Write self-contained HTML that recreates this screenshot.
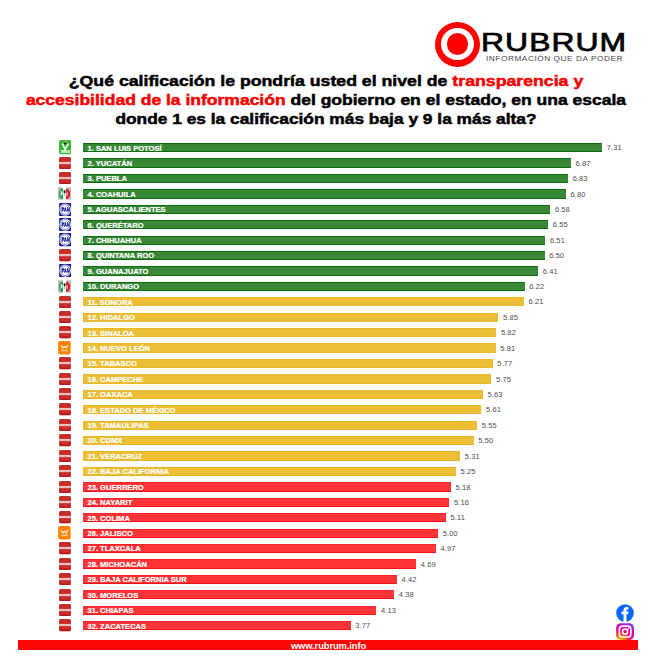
<!DOCTYPE html>
<html><head><meta charset="utf-8">
<style>
*{margin:0;padding:0;box-sizing:border-box}
html,body{width:657px;height:657px;background:#fff;overflow:hidden}
body{position:relative;font-family:"Liberation Sans",sans-serif}
.abs{position:absolute}
.bar{position:absolute;left:83px;height:9.3px}
.bar.g{background:#378737;box-shadow:inset 0 1px 0 #0C6F0C,inset 0 -1px 0 #0C6F0C}
.bar.y{background:#EBBE35;box-shadow:inset 0 1px 0 #E8B824,inset 0 -1px 0 #E8B824}
.bar.r{background:#FE3437;box-shadow:inset 0 1px 0 #F8222A,inset 0 -1px 0 #F2121C}
.bar span{position:absolute;left:4.5px;top:0.5px;line-height:9px;font-size:7.55px;font-weight:bold;color:#fff;white-space:nowrap;letter-spacing:0px;-webkit-text-stroke:0.2px #fff}
.val{position:absolute;height:9px;line-height:9px;font-size:7.5px;color:#4e4e4e;white-space:nowrap;margin-top:0.3px;letter-spacing:0.1px}
.ic{position:absolute}
.title{position:absolute;left:0;width:652px;text-align:center;font-weight:bold;color:#000;white-space:nowrap;font-size:15px;transform-origin:326px 0;-webkit-text-stroke:0.5px currentColor}
.title .red{color:#F80000}
</style></head><body>
<!-- logo -->
<div class="abs" style="left:434.7px;top:21.5px;width:45px;height:45px;border-radius:50%;background:#FF0000"></div>
<div class="abs" style="left:440.8px;top:27.6px;width:32.8px;height:32.8px;border-radius:50%;background:#fff"></div>
<div class="abs" style="left:446.6px;top:33.4px;width:21.2px;height:21.2px;border-radius:50%;background:#FF0000"></div>
<div class="abs" id="rub" style="left:480.8px;top:26.9px;font-size:26.6px;font-weight:normal;color:#000;line-height:30px;white-space:nowrap;transform:scaleX(1.2);transform-origin:0 0;letter-spacing:0.85px;-webkit-text-stroke:0.75px #000">RUBRUM</div>
<div class="abs" id="tag" style="left:485.5px;top:53.5px;font-size:6.9px;color:#484848;line-height:9px;white-space:nowrap;letter-spacing:0.45px;transform:scaleX(1.2);transform-origin:0 0">INFORMACIÓN QUE DA PODER</div>
<!-- title -->
<div class="title" id="t1" style="top:72.3px;line-height:18px;transform:scaleX(1.18)">¿Qué calificación le pondría usted el nivel de <span class="red">transparencia y</span></div>
<div class="title" id="t2" style="top:90.8px;line-height:18px;transform:scaleX(1.167)"><span class="red">accesibilidad de la información</span> del gobierno en el estado, en una escala</div>
<div class="title" id="t3" style="top:109.6px;line-height:18px;transform:scaleX(1.156)">donde 1 es la calificación más baja y 9 la más alta?</div>
<div class="bar g" style="top:143.00px;width:519.01px"><span>1. SAN LUIS POTOSÍ</span></div>
<div class="val" style="top:143.00px;left:606.71px">7.31</div>
<svg class="ic" style="left:58.5px;top:140.40px" width="12.7" height="14.2" viewBox="0 0 12 13.4"><rect x="0" y="0" width="12" height="13.4" rx="2" fill="#3CB43C"/><path d="M3.2 3.4 L5.8 8.8 L8.8 3.4" stroke="#F4FFF0" stroke-width="1.5" fill="none"/><circle cx="5.9" cy="3.2" r="1.1" fill="#151515"/><rect x="5.2" y="1" width="2" height="1.3" fill="#C8B030"/><rect x="1" y="10" width="10" height="2.6" fill="#3CB43C"/><text x="6" y="12.5" font-size="3.6" font-weight="bold" fill="#F0FFF0" text-anchor="middle" textLength="9.6" font-family="Liberation Sans">VERDE</text></svg>
<div class="bar g" style="top:158.42px;width:487.77px"><span>2. YUCATÁN</span></div>
<div class="val" style="top:158.42px;left:575.47px">6.87</div>
<svg class="ic" style="left:58.9px;top:156.77px" width="12" height="12.3" viewBox="0 0 12 12.3"><rect x="0.3" y="0.3" width="11.4" height="11.7" rx="1.6" fill="#C42020" stroke="#A30808" stroke-width="0.6"/><rect x="1.3" y="1.3" width="9.4" height="3" fill="#C93A2A" opacity=".6"/><rect x="0.2" y="4.9" width="11.6" height="2.3" fill="#F6DADA"/><rect x="1.6" y="5.5" width="0.5" height="1.3" fill="#D67070"/><rect x="2.9" y="5.5" width="0.5" height="1.3" fill="#D67070"/><rect x="3.8" y="5.5" width="0.5" height="1.3" fill="#D67070"/><rect x="5.1" y="5.5" width="0.5" height="1.3" fill="#D67070"/><rect x="6.3" y="5.5" width="0.5" height="1.3" fill="#D67070"/><rect x="7.5" y="5.5" width="0.5" height="1.3" fill="#D67070"/><rect x="8.8" y="5.5" width="0.5" height="1.3" fill="#D67070"/><rect x="10.0" y="5.5" width="0.5" height="1.3" fill="#D67070"/><rect x="2" y="8.6" width="8" height="1.2" fill="#D55" opacity=".5"/></svg>
<div class="bar g" style="top:173.84px;width:484.93px"><span>3. PUEBLA</span></div>
<div class="val" style="top:173.84px;left:572.63px">6.83</div>
<svg class="ic" style="left:58.9px;top:172.19px" width="12" height="12.3" viewBox="0 0 12 12.3"><rect x="0.3" y="0.3" width="11.4" height="11.7" rx="1.6" fill="#C42020" stroke="#A30808" stroke-width="0.6"/><rect x="1.3" y="1.3" width="9.4" height="3" fill="#C93A2A" opacity=".6"/><rect x="0.2" y="4.9" width="11.6" height="2.3" fill="#F6DADA"/><rect x="1.6" y="5.5" width="0.5" height="1.3" fill="#D67070"/><rect x="2.9" y="5.5" width="0.5" height="1.3" fill="#D67070"/><rect x="3.8" y="5.5" width="0.5" height="1.3" fill="#D67070"/><rect x="5.1" y="5.5" width="0.5" height="1.3" fill="#D67070"/><rect x="6.3" y="5.5" width="0.5" height="1.3" fill="#D67070"/><rect x="7.5" y="5.5" width="0.5" height="1.3" fill="#D67070"/><rect x="8.8" y="5.5" width="0.5" height="1.3" fill="#D67070"/><rect x="10.0" y="5.5" width="0.5" height="1.3" fill="#D67070"/><rect x="2" y="8.6" width="8" height="1.2" fill="#D55" opacity=".5"/></svg>
<div class="bar g" style="top:189.26px;width:482.80px"><span>4. COAHUILA</span></div>
<div class="val" style="top:189.26px;left:570.50px">6.80</div>
<svg class="ic" style="left:58px;top:187.26px" width="13.2" height="13" viewBox="0 0 13.2 13"><rect x="0" y="0.3" width="4.9" height="12.4" rx="0.6" fill="#B9B9B9"/><rect x="8.3" y="0.3" width="4.9" height="12.4" rx="0.6" fill="#B9B9B9"/><path d="M5 1.6 A4 5.2 0 0 0 5 12 Z" fill="#149A44"/><path d="M4.6 4.2 L2.6 4.2 L2.5 9.5 L4.6 7 Z" fill="#E6F4E6"/><rect x="4.9" y="0.3" width="3.4" height="12.4" fill="#fff"/><rect x="5.6" y="3.2" width="2" height="3.2" rx="0.8" fill="#1A1A1A"/><rect x="5.9" y="7" width="1.4" height="2" fill="#888" opacity=".6"/><path d="M8.1 1.6 A4 5.2 0 0 1 8.1 12 Z" fill="#E01A1A"/><path d="M8.7 4.2 A1.4 2.8 0 0 1 8.7 9.6 Z" fill="#fff"/></svg>
<div class="bar g" style="top:204.68px;width:467.18px"><span>5. AGUASCALIENTES</span></div>
<div class="val" style="top:204.68px;left:554.88px">6.58</div>
<svg class="ic" style="left:58.7px;top:202.58px" width="12.4" height="13.2" viewBox="0 0 12 13"><rect x="0" y="0" width="12" height="13" rx="1" fill="#1A1A8A"/><ellipse cx="6" cy="6.5" rx="5.7" ry="6.1" fill="#E6E8F4"/><ellipse cx="6" cy="6.5" rx="4.4" ry="4.8" fill="#fff" stroke="#5060B8" stroke-width="0.7"/><path d="M2.6 4.3h1.5a1.15 1.2 0 0 1 0 2.4H3.5V8.7H2.6Z M4.9 8.7L5.8 4.3h0.8L7.5 8.7H6.6L6.2 6.4L5.8 8.7Z M7.8 4.3h0.8l1.0 2.6V4.3h0.7v4.4h-0.8l-1.0-2.6v2.6h-0.7Z" fill="#1A2A9A"/><rect x="2.4" y="7.3" width="7.4" height="0.5" fill="#1A2A9A"/></svg>
<div class="bar g" style="top:220.10px;width:465.05px"><span>6. QUERÉTARO</span></div>
<div class="val" style="top:220.10px;left:552.75px">6.55</div>
<svg class="ic" style="left:58.7px;top:218.00px" width="12.4" height="13.2" viewBox="0 0 12 13"><rect x="0" y="0" width="12" height="13" rx="1" fill="#1A1A8A"/><ellipse cx="6" cy="6.5" rx="5.7" ry="6.1" fill="#E6E8F4"/><ellipse cx="6" cy="6.5" rx="4.4" ry="4.8" fill="#fff" stroke="#5060B8" stroke-width="0.7"/><path d="M2.6 4.3h1.5a1.15 1.2 0 0 1 0 2.4H3.5V8.7H2.6Z M4.9 8.7L5.8 4.3h0.8L7.5 8.7H6.6L6.2 6.4L5.8 8.7Z M7.8 4.3h0.8l1.0 2.6V4.3h0.7v4.4h-0.8l-1.0-2.6v2.6h-0.7Z" fill="#1A2A9A"/><rect x="2.4" y="7.3" width="7.4" height="0.5" fill="#1A2A9A"/></svg>
<div class="bar g" style="top:235.52px;width:462.21px"><span>7. CHIHUAHUA</span></div>
<div class="val" style="top:235.52px;left:549.91px">6.51</div>
<svg class="ic" style="left:58.7px;top:233.42px" width="12.4" height="13.2" viewBox="0 0 12 13"><rect x="0" y="0" width="12" height="13" rx="1" fill="#1A1A8A"/><ellipse cx="6" cy="6.5" rx="5.7" ry="6.1" fill="#E6E8F4"/><ellipse cx="6" cy="6.5" rx="4.4" ry="4.8" fill="#fff" stroke="#5060B8" stroke-width="0.7"/><path d="M2.6 4.3h1.5a1.15 1.2 0 0 1 0 2.4H3.5V8.7H2.6Z M4.9 8.7L5.8 4.3h0.8L7.5 8.7H6.6L6.2 6.4L5.8 8.7Z M7.8 4.3h0.8l1.0 2.6V4.3h0.7v4.4h-0.8l-1.0-2.6v2.6h-0.7Z" fill="#1A2A9A"/><rect x="2.4" y="7.3" width="7.4" height="0.5" fill="#1A2A9A"/></svg>
<div class="bar g" style="top:250.94px;width:461.50px"><span>8. QUINTANA ROO</span></div>
<div class="val" style="top:250.94px;left:549.20px">6.50</div>
<svg class="ic" style="left:58.9px;top:249.29px" width="12" height="12.3" viewBox="0 0 12 12.3"><rect x="0.3" y="0.3" width="11.4" height="11.7" rx="1.6" fill="#C42020" stroke="#A30808" stroke-width="0.6"/><rect x="1.3" y="1.3" width="9.4" height="3" fill="#C93A2A" opacity=".6"/><rect x="0.2" y="4.9" width="11.6" height="2.3" fill="#F6DADA"/><rect x="1.6" y="5.5" width="0.5" height="1.3" fill="#D67070"/><rect x="2.9" y="5.5" width="0.5" height="1.3" fill="#D67070"/><rect x="3.8" y="5.5" width="0.5" height="1.3" fill="#D67070"/><rect x="5.1" y="5.5" width="0.5" height="1.3" fill="#D67070"/><rect x="6.3" y="5.5" width="0.5" height="1.3" fill="#D67070"/><rect x="7.5" y="5.5" width="0.5" height="1.3" fill="#D67070"/><rect x="8.8" y="5.5" width="0.5" height="1.3" fill="#D67070"/><rect x="10.0" y="5.5" width="0.5" height="1.3" fill="#D67070"/><rect x="2" y="8.6" width="8" height="1.2" fill="#D55" opacity=".5"/></svg>
<div class="bar g" style="top:266.36px;width:455.11px"><span>9. GUANAJUATO</span></div>
<div class="val" style="top:266.36px;left:542.81px">6.41</div>
<svg class="ic" style="left:58.7px;top:264.26px" width="12.4" height="13.2" viewBox="0 0 12 13"><rect x="0" y="0" width="12" height="13" rx="1" fill="#1A1A8A"/><ellipse cx="6" cy="6.5" rx="5.7" ry="6.1" fill="#E6E8F4"/><ellipse cx="6" cy="6.5" rx="4.4" ry="4.8" fill="#fff" stroke="#5060B8" stroke-width="0.7"/><path d="M2.6 4.3h1.5a1.15 1.2 0 0 1 0 2.4H3.5V8.7H2.6Z M4.9 8.7L5.8 4.3h0.8L7.5 8.7H6.6L6.2 6.4L5.8 8.7Z M7.8 4.3h0.8l1.0 2.6V4.3h0.7v4.4h-0.8l-1.0-2.6v2.6h-0.7Z" fill="#1A2A9A"/><rect x="2.4" y="7.3" width="7.4" height="0.5" fill="#1A2A9A"/></svg>
<div class="bar g" style="top:281.78px;width:441.62px"><span>10. DURANGO</span></div>
<div class="val" style="top:281.78px;left:529.32px">6.22</div>
<svg class="ic" style="left:58px;top:279.78px" width="13.2" height="13" viewBox="0 0 13.2 13"><rect x="0" y="0.3" width="4.9" height="12.4" rx="0.6" fill="#B9B9B9"/><rect x="8.3" y="0.3" width="4.9" height="12.4" rx="0.6" fill="#B9B9B9"/><path d="M5 1.6 A4 5.2 0 0 0 5 12 Z" fill="#149A44"/><path d="M4.6 4.2 L2.6 4.2 L2.5 9.5 L4.6 7 Z" fill="#E6F4E6"/><rect x="4.9" y="0.3" width="3.4" height="12.4" fill="#fff"/><rect x="5.6" y="3.2" width="2" height="3.2" rx="0.8" fill="#1A1A1A"/><rect x="5.9" y="7" width="1.4" height="2" fill="#888" opacity=".6"/><path d="M8.1 1.6 A4 5.2 0 0 1 8.1 12 Z" fill="#E01A1A"/><path d="M8.7 4.2 A1.4 2.8 0 0 1 8.7 9.6 Z" fill="#fff"/></svg>
<div class="bar y" style="top:297.20px;width:440.91px"><span>11. SONORA</span></div>
<div class="val" style="top:297.20px;left:528.61px">6.21</div>
<svg class="ic" style="left:58.9px;top:295.55px" width="12" height="12.3" viewBox="0 0 12 12.3"><rect x="0.3" y="0.3" width="11.4" height="11.7" rx="1.6" fill="#C42020" stroke="#A30808" stroke-width="0.6"/><rect x="1.3" y="1.3" width="9.4" height="3" fill="#C93A2A" opacity=".6"/><rect x="0.2" y="4.9" width="11.6" height="2.3" fill="#F6DADA"/><rect x="1.6" y="5.5" width="0.5" height="1.3" fill="#D67070"/><rect x="2.9" y="5.5" width="0.5" height="1.3" fill="#D67070"/><rect x="3.8" y="5.5" width="0.5" height="1.3" fill="#D67070"/><rect x="5.1" y="5.5" width="0.5" height="1.3" fill="#D67070"/><rect x="6.3" y="5.5" width="0.5" height="1.3" fill="#D67070"/><rect x="7.5" y="5.5" width="0.5" height="1.3" fill="#D67070"/><rect x="8.8" y="5.5" width="0.5" height="1.3" fill="#D67070"/><rect x="10.0" y="5.5" width="0.5" height="1.3" fill="#D67070"/><rect x="2" y="8.6" width="8" height="1.2" fill="#D55" opacity=".5"/></svg>
<div class="bar y" style="top:312.62px;width:415.35px"><span>12. HIDALGO</span></div>
<div class="val" style="top:312.62px;left:503.05px">5.85</div>
<svg class="ic" style="left:58.9px;top:310.97px" width="12" height="12.3" viewBox="0 0 12 12.3"><rect x="0.3" y="0.3" width="11.4" height="11.7" rx="1.6" fill="#C42020" stroke="#A30808" stroke-width="0.6"/><rect x="1.3" y="1.3" width="9.4" height="3" fill="#C93A2A" opacity=".6"/><rect x="0.2" y="4.9" width="11.6" height="2.3" fill="#F6DADA"/><rect x="1.6" y="5.5" width="0.5" height="1.3" fill="#D67070"/><rect x="2.9" y="5.5" width="0.5" height="1.3" fill="#D67070"/><rect x="3.8" y="5.5" width="0.5" height="1.3" fill="#D67070"/><rect x="5.1" y="5.5" width="0.5" height="1.3" fill="#D67070"/><rect x="6.3" y="5.5" width="0.5" height="1.3" fill="#D67070"/><rect x="7.5" y="5.5" width="0.5" height="1.3" fill="#D67070"/><rect x="8.8" y="5.5" width="0.5" height="1.3" fill="#D67070"/><rect x="10.0" y="5.5" width="0.5" height="1.3" fill="#D67070"/><rect x="2" y="8.6" width="8" height="1.2" fill="#D55" opacity=".5"/></svg>
<div class="bar y" style="top:328.04px;width:413.22px"><span>13. SINALOA</span></div>
<div class="val" style="top:328.04px;left:500.92px">5.82</div>
<svg class="ic" style="left:58.9px;top:326.39px" width="12" height="12.3" viewBox="0 0 12 12.3"><rect x="0.3" y="0.3" width="11.4" height="11.7" rx="1.6" fill="#C42020" stroke="#A30808" stroke-width="0.6"/><rect x="1.3" y="1.3" width="9.4" height="3" fill="#C93A2A" opacity=".6"/><rect x="0.2" y="4.9" width="11.6" height="2.3" fill="#F6DADA"/><rect x="1.6" y="5.5" width="0.5" height="1.3" fill="#D67070"/><rect x="2.9" y="5.5" width="0.5" height="1.3" fill="#D67070"/><rect x="3.8" y="5.5" width="0.5" height="1.3" fill="#D67070"/><rect x="5.1" y="5.5" width="0.5" height="1.3" fill="#D67070"/><rect x="6.3" y="5.5" width="0.5" height="1.3" fill="#D67070"/><rect x="7.5" y="5.5" width="0.5" height="1.3" fill="#D67070"/><rect x="8.8" y="5.5" width="0.5" height="1.3" fill="#D67070"/><rect x="10.0" y="5.5" width="0.5" height="1.3" fill="#D67070"/><rect x="2" y="8.6" width="8" height="1.2" fill="#D55" opacity=".5"/></svg>
<div class="bar y" style="top:343.46px;width:412.51px"><span>14. NUEVO LEÓN</span></div>
<div class="val" style="top:343.46px;left:500.21px">5.81</div>
<svg class="ic" style="left:58px;top:341.21px" width="12.8" height="13.5" viewBox="0 0 12 13"><rect x="0" y="0" width="12" height="13" rx="2" fill="#FF8200"/><path d="M2.6 4.2 L4.6 6.6 L6 5.3 L7.4 6.6 L9.4 4.2" stroke="#FFF3DC" stroke-width="1.3" fill="none" stroke-linejoin="round"/><rect x="3" y="8.4" width="6" height="1.4" fill="#FFD8A0"/></svg>
<div class="bar y" style="top:358.88px;width:409.67px"><span>15. TABASCO</span></div>
<div class="val" style="top:358.88px;left:497.37px">5.77</div>
<svg class="ic" style="left:58.9px;top:357.23px" width="12" height="12.3" viewBox="0 0 12 12.3"><rect x="0.3" y="0.3" width="11.4" height="11.7" rx="1.6" fill="#C42020" stroke="#A30808" stroke-width="0.6"/><rect x="1.3" y="1.3" width="9.4" height="3" fill="#C93A2A" opacity=".6"/><rect x="0.2" y="4.9" width="11.6" height="2.3" fill="#F6DADA"/><rect x="1.6" y="5.5" width="0.5" height="1.3" fill="#D67070"/><rect x="2.9" y="5.5" width="0.5" height="1.3" fill="#D67070"/><rect x="3.8" y="5.5" width="0.5" height="1.3" fill="#D67070"/><rect x="5.1" y="5.5" width="0.5" height="1.3" fill="#D67070"/><rect x="6.3" y="5.5" width="0.5" height="1.3" fill="#D67070"/><rect x="7.5" y="5.5" width="0.5" height="1.3" fill="#D67070"/><rect x="8.8" y="5.5" width="0.5" height="1.3" fill="#D67070"/><rect x="10.0" y="5.5" width="0.5" height="1.3" fill="#D67070"/><rect x="2" y="8.6" width="8" height="1.2" fill="#D55" opacity=".5"/></svg>
<div class="bar y" style="top:374.30px;width:408.25px"><span>16. CAMPECHE</span></div>
<div class="val" style="top:374.30px;left:495.95px">5.75</div>
<svg class="ic" style="left:58.9px;top:372.65px" width="12" height="12.3" viewBox="0 0 12 12.3"><rect x="0.3" y="0.3" width="11.4" height="11.7" rx="1.6" fill="#C42020" stroke="#A30808" stroke-width="0.6"/><rect x="1.3" y="1.3" width="9.4" height="3" fill="#C93A2A" opacity=".6"/><rect x="0.2" y="4.9" width="11.6" height="2.3" fill="#F6DADA"/><rect x="1.6" y="5.5" width="0.5" height="1.3" fill="#D67070"/><rect x="2.9" y="5.5" width="0.5" height="1.3" fill="#D67070"/><rect x="3.8" y="5.5" width="0.5" height="1.3" fill="#D67070"/><rect x="5.1" y="5.5" width="0.5" height="1.3" fill="#D67070"/><rect x="6.3" y="5.5" width="0.5" height="1.3" fill="#D67070"/><rect x="7.5" y="5.5" width="0.5" height="1.3" fill="#D67070"/><rect x="8.8" y="5.5" width="0.5" height="1.3" fill="#D67070"/><rect x="10.0" y="5.5" width="0.5" height="1.3" fill="#D67070"/><rect x="2" y="8.6" width="8" height="1.2" fill="#D55" opacity=".5"/></svg>
<div class="bar y" style="top:389.72px;width:399.73px"><span>17. OAXACA</span></div>
<div class="val" style="top:389.72px;left:487.43px">5.63</div>
<svg class="ic" style="left:58.9px;top:388.07px" width="12" height="12.3" viewBox="0 0 12 12.3"><rect x="0.3" y="0.3" width="11.4" height="11.7" rx="1.6" fill="#C42020" stroke="#A30808" stroke-width="0.6"/><rect x="1.3" y="1.3" width="9.4" height="3" fill="#C93A2A" opacity=".6"/><rect x="0.2" y="4.9" width="11.6" height="2.3" fill="#F6DADA"/><rect x="1.6" y="5.5" width="0.5" height="1.3" fill="#D67070"/><rect x="2.9" y="5.5" width="0.5" height="1.3" fill="#D67070"/><rect x="3.8" y="5.5" width="0.5" height="1.3" fill="#D67070"/><rect x="5.1" y="5.5" width="0.5" height="1.3" fill="#D67070"/><rect x="6.3" y="5.5" width="0.5" height="1.3" fill="#D67070"/><rect x="7.5" y="5.5" width="0.5" height="1.3" fill="#D67070"/><rect x="8.8" y="5.5" width="0.5" height="1.3" fill="#D67070"/><rect x="10.0" y="5.5" width="0.5" height="1.3" fill="#D67070"/><rect x="2" y="8.6" width="8" height="1.2" fill="#D55" opacity=".5"/></svg>
<div class="bar y" style="top:405.14px;width:398.31px"><span>18. ESTADO DE MÉXICO</span></div>
<div class="val" style="top:405.14px;left:486.01px">5.61</div>
<svg class="ic" style="left:58.9px;top:403.49px" width="12" height="12.3" viewBox="0 0 12 12.3"><rect x="0.3" y="0.3" width="11.4" height="11.7" rx="1.6" fill="#C42020" stroke="#A30808" stroke-width="0.6"/><rect x="1.3" y="1.3" width="9.4" height="3" fill="#C93A2A" opacity=".6"/><rect x="0.2" y="4.9" width="11.6" height="2.3" fill="#F6DADA"/><rect x="1.6" y="5.5" width="0.5" height="1.3" fill="#D67070"/><rect x="2.9" y="5.5" width="0.5" height="1.3" fill="#D67070"/><rect x="3.8" y="5.5" width="0.5" height="1.3" fill="#D67070"/><rect x="5.1" y="5.5" width="0.5" height="1.3" fill="#D67070"/><rect x="6.3" y="5.5" width="0.5" height="1.3" fill="#D67070"/><rect x="7.5" y="5.5" width="0.5" height="1.3" fill="#D67070"/><rect x="8.8" y="5.5" width="0.5" height="1.3" fill="#D67070"/><rect x="10.0" y="5.5" width="0.5" height="1.3" fill="#D67070"/><rect x="2" y="8.6" width="8" height="1.2" fill="#D55" opacity=".5"/></svg>
<div class="bar y" style="top:420.56px;width:394.05px"><span>19. TAMAULIPAS</span></div>
<div class="val" style="top:420.56px;left:481.75px">5.55</div>
<svg class="ic" style="left:58.9px;top:418.91px" width="12" height="12.3" viewBox="0 0 12 12.3"><rect x="0.3" y="0.3" width="11.4" height="11.7" rx="1.6" fill="#C42020" stroke="#A30808" stroke-width="0.6"/><rect x="1.3" y="1.3" width="9.4" height="3" fill="#C93A2A" opacity=".6"/><rect x="0.2" y="4.9" width="11.6" height="2.3" fill="#F6DADA"/><rect x="1.6" y="5.5" width="0.5" height="1.3" fill="#D67070"/><rect x="2.9" y="5.5" width="0.5" height="1.3" fill="#D67070"/><rect x="3.8" y="5.5" width="0.5" height="1.3" fill="#D67070"/><rect x="5.1" y="5.5" width="0.5" height="1.3" fill="#D67070"/><rect x="6.3" y="5.5" width="0.5" height="1.3" fill="#D67070"/><rect x="7.5" y="5.5" width="0.5" height="1.3" fill="#D67070"/><rect x="8.8" y="5.5" width="0.5" height="1.3" fill="#D67070"/><rect x="10.0" y="5.5" width="0.5" height="1.3" fill="#D67070"/><rect x="2" y="8.6" width="8" height="1.2" fill="#D55" opacity=".5"/></svg>
<div class="bar y" style="top:435.98px;width:390.50px"><span>20. CDMX</span></div>
<div class="val" style="top:435.98px;left:478.20px">5.50</div>
<svg class="ic" style="left:58.9px;top:434.33px" width="12" height="12.3" viewBox="0 0 12 12.3"><rect x="0.3" y="0.3" width="11.4" height="11.7" rx="1.6" fill="#C42020" stroke="#A30808" stroke-width="0.6"/><rect x="1.3" y="1.3" width="9.4" height="3" fill="#C93A2A" opacity=".6"/><rect x="0.2" y="4.9" width="11.6" height="2.3" fill="#F6DADA"/><rect x="1.6" y="5.5" width="0.5" height="1.3" fill="#D67070"/><rect x="2.9" y="5.5" width="0.5" height="1.3" fill="#D67070"/><rect x="3.8" y="5.5" width="0.5" height="1.3" fill="#D67070"/><rect x="5.1" y="5.5" width="0.5" height="1.3" fill="#D67070"/><rect x="6.3" y="5.5" width="0.5" height="1.3" fill="#D67070"/><rect x="7.5" y="5.5" width="0.5" height="1.3" fill="#D67070"/><rect x="8.8" y="5.5" width="0.5" height="1.3" fill="#D67070"/><rect x="10.0" y="5.5" width="0.5" height="1.3" fill="#D67070"/><rect x="2" y="8.6" width="8" height="1.2" fill="#D55" opacity=".5"/></svg>
<div class="bar y" style="top:451.40px;width:377.01px"><span>21. VERACRUZ</span></div>
<div class="val" style="top:451.40px;left:464.71px">5.31</div>
<svg class="ic" style="left:58.9px;top:449.75px" width="12" height="12.3" viewBox="0 0 12 12.3"><rect x="0.3" y="0.3" width="11.4" height="11.7" rx="1.6" fill="#C42020" stroke="#A30808" stroke-width="0.6"/><rect x="1.3" y="1.3" width="9.4" height="3" fill="#C93A2A" opacity=".6"/><rect x="0.2" y="4.9" width="11.6" height="2.3" fill="#F6DADA"/><rect x="1.6" y="5.5" width="0.5" height="1.3" fill="#D67070"/><rect x="2.9" y="5.5" width="0.5" height="1.3" fill="#D67070"/><rect x="3.8" y="5.5" width="0.5" height="1.3" fill="#D67070"/><rect x="5.1" y="5.5" width="0.5" height="1.3" fill="#D67070"/><rect x="6.3" y="5.5" width="0.5" height="1.3" fill="#D67070"/><rect x="7.5" y="5.5" width="0.5" height="1.3" fill="#D67070"/><rect x="8.8" y="5.5" width="0.5" height="1.3" fill="#D67070"/><rect x="10.0" y="5.5" width="0.5" height="1.3" fill="#D67070"/><rect x="2" y="8.6" width="8" height="1.2" fill="#D55" opacity=".5"/></svg>
<div class="bar y" style="top:466.82px;width:372.75px"><span>22. BAJA CALIFORNIA</span></div>
<div class="val" style="top:466.82px;left:460.45px">5.25</div>
<svg class="ic" style="left:58.9px;top:465.17px" width="12" height="12.3" viewBox="0 0 12 12.3"><rect x="0.3" y="0.3" width="11.4" height="11.7" rx="1.6" fill="#C42020" stroke="#A30808" stroke-width="0.6"/><rect x="1.3" y="1.3" width="9.4" height="3" fill="#C93A2A" opacity=".6"/><rect x="0.2" y="4.9" width="11.6" height="2.3" fill="#F6DADA"/><rect x="1.6" y="5.5" width="0.5" height="1.3" fill="#D67070"/><rect x="2.9" y="5.5" width="0.5" height="1.3" fill="#D67070"/><rect x="3.8" y="5.5" width="0.5" height="1.3" fill="#D67070"/><rect x="5.1" y="5.5" width="0.5" height="1.3" fill="#D67070"/><rect x="6.3" y="5.5" width="0.5" height="1.3" fill="#D67070"/><rect x="7.5" y="5.5" width="0.5" height="1.3" fill="#D67070"/><rect x="8.8" y="5.5" width="0.5" height="1.3" fill="#D67070"/><rect x="10.0" y="5.5" width="0.5" height="1.3" fill="#D67070"/><rect x="2" y="8.6" width="8" height="1.2" fill="#D55" opacity=".5"/></svg>
<div class="bar r" style="top:482.24px;width:367.78px"><span>23. GUERRERO</span></div>
<div class="val" style="top:482.24px;left:455.48px">5.18</div>
<svg class="ic" style="left:58.9px;top:480.59px" width="12" height="12.3" viewBox="0 0 12 12.3"><rect x="0.3" y="0.3" width="11.4" height="11.7" rx="1.6" fill="#C42020" stroke="#A30808" stroke-width="0.6"/><rect x="1.3" y="1.3" width="9.4" height="3" fill="#C93A2A" opacity=".6"/><rect x="0.2" y="4.9" width="11.6" height="2.3" fill="#F6DADA"/><rect x="1.6" y="5.5" width="0.5" height="1.3" fill="#D67070"/><rect x="2.9" y="5.5" width="0.5" height="1.3" fill="#D67070"/><rect x="3.8" y="5.5" width="0.5" height="1.3" fill="#D67070"/><rect x="5.1" y="5.5" width="0.5" height="1.3" fill="#D67070"/><rect x="6.3" y="5.5" width="0.5" height="1.3" fill="#D67070"/><rect x="7.5" y="5.5" width="0.5" height="1.3" fill="#D67070"/><rect x="8.8" y="5.5" width="0.5" height="1.3" fill="#D67070"/><rect x="10.0" y="5.5" width="0.5" height="1.3" fill="#D67070"/><rect x="2" y="8.6" width="8" height="1.2" fill="#D55" opacity=".5"/></svg>
<div class="bar r" style="top:497.66px;width:366.36px"><span>24. NAYARIT</span></div>
<div class="val" style="top:497.66px;left:454.06px">5.16</div>
<svg class="ic" style="left:58.9px;top:496.01px" width="12" height="12.3" viewBox="0 0 12 12.3"><rect x="0.3" y="0.3" width="11.4" height="11.7" rx="1.6" fill="#C42020" stroke="#A30808" stroke-width="0.6"/><rect x="1.3" y="1.3" width="9.4" height="3" fill="#C93A2A" opacity=".6"/><rect x="0.2" y="4.9" width="11.6" height="2.3" fill="#F6DADA"/><rect x="1.6" y="5.5" width="0.5" height="1.3" fill="#D67070"/><rect x="2.9" y="5.5" width="0.5" height="1.3" fill="#D67070"/><rect x="3.8" y="5.5" width="0.5" height="1.3" fill="#D67070"/><rect x="5.1" y="5.5" width="0.5" height="1.3" fill="#D67070"/><rect x="6.3" y="5.5" width="0.5" height="1.3" fill="#D67070"/><rect x="7.5" y="5.5" width="0.5" height="1.3" fill="#D67070"/><rect x="8.8" y="5.5" width="0.5" height="1.3" fill="#D67070"/><rect x="10.0" y="5.5" width="0.5" height="1.3" fill="#D67070"/><rect x="2" y="8.6" width="8" height="1.2" fill="#D55" opacity=".5"/></svg>
<div class="bar r" style="top:513.08px;width:362.81px"><span>25. COLIMA</span></div>
<div class="val" style="top:513.08px;left:450.51px">5.11</div>
<svg class="ic" style="left:58.9px;top:511.43px" width="12" height="12.3" viewBox="0 0 12 12.3"><rect x="0.3" y="0.3" width="11.4" height="11.7" rx="1.6" fill="#C42020" stroke="#A30808" stroke-width="0.6"/><rect x="1.3" y="1.3" width="9.4" height="3" fill="#C93A2A" opacity=".6"/><rect x="0.2" y="4.9" width="11.6" height="2.3" fill="#F6DADA"/><rect x="1.6" y="5.5" width="0.5" height="1.3" fill="#D67070"/><rect x="2.9" y="5.5" width="0.5" height="1.3" fill="#D67070"/><rect x="3.8" y="5.5" width="0.5" height="1.3" fill="#D67070"/><rect x="5.1" y="5.5" width="0.5" height="1.3" fill="#D67070"/><rect x="6.3" y="5.5" width="0.5" height="1.3" fill="#D67070"/><rect x="7.5" y="5.5" width="0.5" height="1.3" fill="#D67070"/><rect x="8.8" y="5.5" width="0.5" height="1.3" fill="#D67070"/><rect x="10.0" y="5.5" width="0.5" height="1.3" fill="#D67070"/><rect x="2" y="8.6" width="8" height="1.2" fill="#D55" opacity=".5"/></svg>
<div class="bar r" style="top:528.50px;width:355.00px"><span>26. JALISCO</span></div>
<div class="val" style="top:528.50px;left:442.70px">5.00</div>
<svg class="ic" style="left:58px;top:526.25px" width="12.8" height="13.5" viewBox="0 0 12 13"><rect x="0" y="0" width="12" height="13" rx="2" fill="#FF8200"/><path d="M2.6 4.2 L4.6 6.6 L6 5.3 L7.4 6.6 L9.4 4.2" stroke="#FFF3DC" stroke-width="1.3" fill="none" stroke-linejoin="round"/><rect x="3" y="8.4" width="6" height="1.4" fill="#FFD8A0"/></svg>
<div class="bar r" style="top:543.92px;width:352.87px"><span>27. TLAXCALA</span></div>
<div class="val" style="top:543.92px;left:440.57px">4.97</div>
<svg class="ic" style="left:58.9px;top:542.27px" width="12" height="12.3" viewBox="0 0 12 12.3"><rect x="0.3" y="0.3" width="11.4" height="11.7" rx="1.6" fill="#C42020" stroke="#A30808" stroke-width="0.6"/><rect x="1.3" y="1.3" width="9.4" height="3" fill="#C93A2A" opacity=".6"/><rect x="0.2" y="4.9" width="11.6" height="2.3" fill="#F6DADA"/><rect x="1.6" y="5.5" width="0.5" height="1.3" fill="#D67070"/><rect x="2.9" y="5.5" width="0.5" height="1.3" fill="#D67070"/><rect x="3.8" y="5.5" width="0.5" height="1.3" fill="#D67070"/><rect x="5.1" y="5.5" width="0.5" height="1.3" fill="#D67070"/><rect x="6.3" y="5.5" width="0.5" height="1.3" fill="#D67070"/><rect x="7.5" y="5.5" width="0.5" height="1.3" fill="#D67070"/><rect x="8.8" y="5.5" width="0.5" height="1.3" fill="#D67070"/><rect x="10.0" y="5.5" width="0.5" height="1.3" fill="#D67070"/><rect x="2" y="8.6" width="8" height="1.2" fill="#D55" opacity=".5"/></svg>
<div class="bar r" style="top:559.34px;width:332.99px"><span>28. MICHOACÁN</span></div>
<div class="val" style="top:559.34px;left:420.69px">4.69</div>
<svg class="ic" style="left:58.9px;top:557.69px" width="12" height="12.3" viewBox="0 0 12 12.3"><rect x="0.3" y="0.3" width="11.4" height="11.7" rx="1.6" fill="#C42020" stroke="#A30808" stroke-width="0.6"/><rect x="1.3" y="1.3" width="9.4" height="3" fill="#C93A2A" opacity=".6"/><rect x="0.2" y="4.9" width="11.6" height="2.3" fill="#F6DADA"/><rect x="1.6" y="5.5" width="0.5" height="1.3" fill="#D67070"/><rect x="2.9" y="5.5" width="0.5" height="1.3" fill="#D67070"/><rect x="3.8" y="5.5" width="0.5" height="1.3" fill="#D67070"/><rect x="5.1" y="5.5" width="0.5" height="1.3" fill="#D67070"/><rect x="6.3" y="5.5" width="0.5" height="1.3" fill="#D67070"/><rect x="7.5" y="5.5" width="0.5" height="1.3" fill="#D67070"/><rect x="8.8" y="5.5" width="0.5" height="1.3" fill="#D67070"/><rect x="10.0" y="5.5" width="0.5" height="1.3" fill="#D67070"/><rect x="2" y="8.6" width="8" height="1.2" fill="#D55" opacity=".5"/></svg>
<div class="bar r" style="top:574.76px;width:313.82px"><span>29. BAJA CALIFORNIA SUR</span></div>
<div class="val" style="top:574.76px;left:401.52px">4.42</div>
<svg class="ic" style="left:58.9px;top:573.11px" width="12" height="12.3" viewBox="0 0 12 12.3"><rect x="0.3" y="0.3" width="11.4" height="11.7" rx="1.6" fill="#C42020" stroke="#A30808" stroke-width="0.6"/><rect x="1.3" y="1.3" width="9.4" height="3" fill="#C93A2A" opacity=".6"/><rect x="0.2" y="4.9" width="11.6" height="2.3" fill="#F6DADA"/><rect x="1.6" y="5.5" width="0.5" height="1.3" fill="#D67070"/><rect x="2.9" y="5.5" width="0.5" height="1.3" fill="#D67070"/><rect x="3.8" y="5.5" width="0.5" height="1.3" fill="#D67070"/><rect x="5.1" y="5.5" width="0.5" height="1.3" fill="#D67070"/><rect x="6.3" y="5.5" width="0.5" height="1.3" fill="#D67070"/><rect x="7.5" y="5.5" width="0.5" height="1.3" fill="#D67070"/><rect x="8.8" y="5.5" width="0.5" height="1.3" fill="#D67070"/><rect x="10.0" y="5.5" width="0.5" height="1.3" fill="#D67070"/><rect x="2" y="8.6" width="8" height="1.2" fill="#D55" opacity=".5"/></svg>
<div class="bar r" style="top:590.18px;width:310.98px"><span>30. MORELOS</span></div>
<div class="val" style="top:590.18px;left:398.68px">4.38</div>
<svg class="ic" style="left:58.9px;top:588.53px" width="12" height="12.3" viewBox="0 0 12 12.3"><rect x="0.3" y="0.3" width="11.4" height="11.7" rx="1.6" fill="#C42020" stroke="#A30808" stroke-width="0.6"/><rect x="1.3" y="1.3" width="9.4" height="3" fill="#C93A2A" opacity=".6"/><rect x="0.2" y="4.9" width="11.6" height="2.3" fill="#F6DADA"/><rect x="1.6" y="5.5" width="0.5" height="1.3" fill="#D67070"/><rect x="2.9" y="5.5" width="0.5" height="1.3" fill="#D67070"/><rect x="3.8" y="5.5" width="0.5" height="1.3" fill="#D67070"/><rect x="5.1" y="5.5" width="0.5" height="1.3" fill="#D67070"/><rect x="6.3" y="5.5" width="0.5" height="1.3" fill="#D67070"/><rect x="7.5" y="5.5" width="0.5" height="1.3" fill="#D67070"/><rect x="8.8" y="5.5" width="0.5" height="1.3" fill="#D67070"/><rect x="10.0" y="5.5" width="0.5" height="1.3" fill="#D67070"/><rect x="2" y="8.6" width="8" height="1.2" fill="#D55" opacity=".5"/></svg>
<div class="bar r" style="top:605.60px;width:293.23px"><span>31. CHIAPAS</span></div>
<div class="val" style="top:605.60px;left:380.93px">4.13</div>
<svg class="ic" style="left:58.9px;top:603.95px" width="12" height="12.3" viewBox="0 0 12 12.3"><rect x="0.3" y="0.3" width="11.4" height="11.7" rx="1.6" fill="#C42020" stroke="#A30808" stroke-width="0.6"/><rect x="1.3" y="1.3" width="9.4" height="3" fill="#C93A2A" opacity=".6"/><rect x="0.2" y="4.9" width="11.6" height="2.3" fill="#F6DADA"/><rect x="1.6" y="5.5" width="0.5" height="1.3" fill="#D67070"/><rect x="2.9" y="5.5" width="0.5" height="1.3" fill="#D67070"/><rect x="3.8" y="5.5" width="0.5" height="1.3" fill="#D67070"/><rect x="5.1" y="5.5" width="0.5" height="1.3" fill="#D67070"/><rect x="6.3" y="5.5" width="0.5" height="1.3" fill="#D67070"/><rect x="7.5" y="5.5" width="0.5" height="1.3" fill="#D67070"/><rect x="8.8" y="5.5" width="0.5" height="1.3" fill="#D67070"/><rect x="10.0" y="5.5" width="0.5" height="1.3" fill="#D67070"/><rect x="2" y="8.6" width="8" height="1.2" fill="#D55" opacity=".5"/></svg>
<div class="bar r" style="top:621.02px;width:267.67px"><span>32. ZACATECAS</span></div>
<div class="val" style="top:621.02px;left:355.37px">3.77</div>
<svg class="ic" style="left:58.9px;top:619.37px" width="12" height="12.3" viewBox="0 0 12 12.3"><rect x="0.3" y="0.3" width="11.4" height="11.7" rx="1.6" fill="#C42020" stroke="#A30808" stroke-width="0.6"/><rect x="1.3" y="1.3" width="9.4" height="3" fill="#C93A2A" opacity=".6"/><rect x="0.2" y="4.9" width="11.6" height="2.3" fill="#F6DADA"/><rect x="1.6" y="5.5" width="0.5" height="1.3" fill="#D67070"/><rect x="2.9" y="5.5" width="0.5" height="1.3" fill="#D67070"/><rect x="3.8" y="5.5" width="0.5" height="1.3" fill="#D67070"/><rect x="5.1" y="5.5" width="0.5" height="1.3" fill="#D67070"/><rect x="6.3" y="5.5" width="0.5" height="1.3" fill="#D67070"/><rect x="7.5" y="5.5" width="0.5" height="1.3" fill="#D67070"/><rect x="8.8" y="5.5" width="0.5" height="1.3" fill="#D67070"/><rect x="10.0" y="5.5" width="0.5" height="1.3" fill="#D67070"/><rect x="2" y="8.6" width="8" height="1.2" fill="#D55" opacity=".5"/></svg>
<!-- footer -->
<div class="abs" style="left:18px;top:640.3px;width:619.5px;height:9.4px;background:#FF0606"></div>
<div class="abs" id="www" style="left:0;width:657px;text-align:center;top:640.7px;line-height:10px;font-size:9.4px;font-weight:bold;color:#fff;padding-left:0px;letter-spacing:-0.1px">www.rubrum.info</div>
<!-- social -->
<svg class="abs" style="left:616.2px;top:603.8px" width="18" height="18" viewBox="0 0 18 18"><circle cx="9" cy="9" r="8.8" fill="#0A66F5"/><path d="M7.5 18V10.3H5.5V7.6H7.5V6.1C7.5 4.1 8.7 3.0 10.6 3.0C11.4 3.0 12.1 3.1 12.5 3.15V5.5H11.3C10.6 5.5 10.45 5.9 10.45 6.5V7.6H12.5L12.1 10.3H10.45V18Z" fill="#fff"/></svg>
<svg class="abs" style="left:616px;top:622.6px" width="18.2" height="17.2" viewBox="0 0 18 17"><defs><radialGradient id="ig" cx="0.2" cy="1.05" r="1.15"><stop offset="0" stop-color="#FFD600"/><stop offset=".25" stop-color="#FF7A00"/><stop offset=".5" stop-color="#FF0069"/><stop offset=".78" stop-color="#D300C5"/><stop offset="1" stop-color="#8A3AF0"/></radialGradient></defs><rect x="0.2" y="0.2" width="17.6" height="16.6" rx="4.6" fill="url(#ig)"/><rect x="3.3" y="3.1" width="11.4" height="10.8" rx="3.1" fill="none" stroke="#fff" stroke-width="1.6"/><circle cx="9" cy="8.5" r="2.6" fill="none" stroke="#fff" stroke-width="1.6"/><circle cx="12.4" cy="5.2" r=".85" fill="#fff"/></svg>
</body></html>
